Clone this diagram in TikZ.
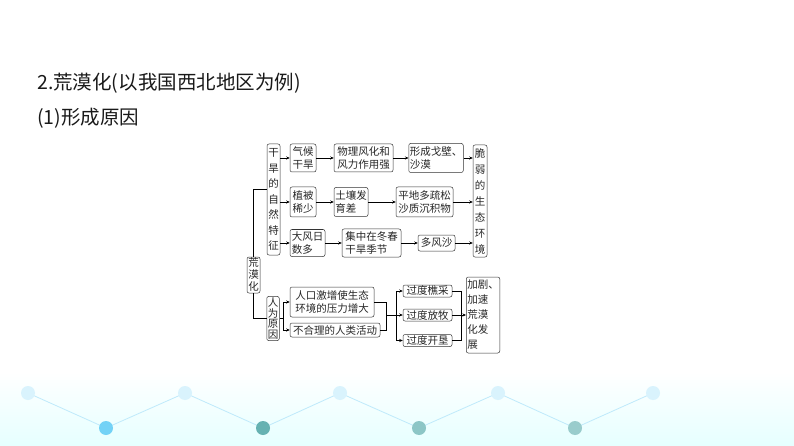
\documentclass[tikz,border=0pt]{standalone}
\usepackage{fontspec}
\setmainfont{Noto Sans CJK SC}
\usetikzlibrary{arrows.meta}

\begin{document}
\begin{tikzpicture}[
		x=1pt,y=-1pt,
		line width=0.5pt,
		box/.style={draw=black!80,rounded corners=2pt,inner sep=1pt,align=left,text=black!85,
			font=\fontsize{10.5}{13.5}\selectfont},
		vbox/.style={box,align=center,text width=10.5pt},
		tbox/.style={box,minimum height=12pt},
		arr/.style={-{Stealth[length=3.5pt,width=3pt]}},
		title/.style={anchor=west,inner sep=0pt,text=black!90,font=\fontsize{19.5}{22}\selectfont}
	]
	\useasboundingbox (0,0) rectangle (794,446);
	\shade[top color=white,bottom color=cyan!10] (0,372) rectangle (794,446);
	\draw[cyan!25,line width=0.8pt] (28,393) -- (106,428) -- (185,393) -- (263,428) -- (340,393)
		-- (419,428) -- (498,393) -- (575,428) -- (653,393);
	\foreach \x in {28,185,340,498,653}
		\fill[cyan!15] (\x,393) circle (7);
	\foreach \x/\c in {106/cyan!55,263/teal!60,419/teal!45,575/teal!40}
		\fill[\c] (\x,428) circle (7);

	\node[title] (head) at (37,83) {2.荒漠化(以我国西北地区为例)};
	\node[title] (sub) at (37,118) {(1)形成原因};

	\node[vbox,minimum width=13pt,minimum height=36pt,font=\fontsize{10.5}{12}\selectfont] (des) at (253.5,275) {荒\\漠\\化};
	\node[vbox,minimum width=13pt,minimum height=111pt,font=\fontsize{10.5}{15.5}\selectfont] (nat) at (273.5,199.5) {干\\旱\\的\\自\\然\\特\\征};
	\node[vbox,minimum width=12pt,minimum height=43pt,font=\fontsize{10.5}{10.8}\selectfont] (hum) at (273,318.5) {人\\为\\原\\因};

	\node[box,minimum width=26pt,minimum height=28pt] (qh) at (303,158) {气候\\干旱};
	\node[box,minimum width=59pt,minimum height=28pt] (wl) at (363.5,158) {物理风化和\\风力作用强};
	\node[box,minimum width=52pt,minimum height=29pt] (gb) at (436,158) {形成戈壁、\\沙漠};
	\node[box,minimum width=26pt,minimum height=30pt] (zb) at (303,202) {植被\\稀少};
	\node[box,minimum width=34pt,minimum height=29pt] (tr) at (351,202) {土壤发\\育差};
	\node[box,minimum width=57pt,minimum height=30pt] (pd) at (424.5,202) {平地多疏松\\沙质沉积物};
	\node[box,minimum width=35pt,minimum height=27pt] (df) at (307.5,243) {大风日\\数多};
	\node[box,minimum width=59pt,minimum height=28pt] (jz) at (371.5,243) {集中在冬春\\干旱季节};
	\node[box,minimum width=37pt,minimum height=16pt] (dfs) at (436.5,243) {多风沙};
	\node[vbox,minimum width=14pt,minimum height=112pt,font=\fontsize{10.5}{16}\selectfont] (cr) at (480,201) {脆\\弱\\的\\生\\态\\环\\境};

	\node[box,minimum width=84pt,minimum height=30pt] (rk) at (332,302) {人口激增使生态\\环境的压力增大};
	\node[box,minimum width=90pt,minimum height=14pt] (bh) at (335,330) {不合理的人类活动};
	\node[tbox,minimum width=49pt] (qc) at (427.5,291) {过度樵采};
	\node[tbox,minimum width=49pt] (fm) at (427.5,315) {过度放牧};
	\node[tbox,minimum width=49pt] (kk) at (427.5,340.5) {过度开垦};
	\node[box,minimum width=30pt,minimum height=76pt,font=\fontsize{10.5}{15}\selectfont] (jj) at (483,315) {加剧、\\加速\\荒漠\\化发\\展};

	\coordinate (natin) at (253.5,189);
	\draw (des.north) |- (nat.west |- natin);
	\draw (des.south) |- (hum.west);

	\draw[arr] (nat.east |- qh.west) -- (qh.west);
	\draw[arr] (nat.east |- zb.west) -- (zb.west);
	\draw[arr] (nat.east |- df.west) -- (df.west);
	\draw[arr] (qh.east) -- (wl.west);
	\draw[arr] (wl.east) -- (gb.west);
	\draw[arr] (gb.east) -- (cr.west |- gb.east);
	\draw[arr] (zb.east) -- (tr.west);
	\draw[arr] (tr.east) -- (pd.west);
	\draw[arr] (pd.east) -- (cr.west |- pd.east);
	\draw[arr] (df.east) -- (jz.west);
	\draw[arr] (jz.east) -- (dfs.west);
	\draw[arr] (dfs.east) -- (cr.west |- dfs.east);

	\coordinate (hj) at (283,318.5);
	\draw (hum.east) -- (hj);
	\draw (hj |- rk.west) -- (hj |- bh.west);
	\draw[arr] (hj |- rk.west) -- (rk.west);
	\draw[arr] (hj |- bh.west) -- (bh.west);

	\coordinate (mj) at (386,315);
	\coordinate (sj) at (396,315);
	\draw (rk.east) -| (mj);
	\draw (bh.east) -| (mj);
	\draw (mj) -- (sj);
	\draw (sj |- qc.west) -- (sj |- kk.west);
	\draw[arr] (sj |- qc.west) -- (qc.west);
	\draw[arr] (sj) -- (fm.west);
	\draw[arr] (sj |- kk.west) -- (kk.west);

	\coordinate (ej) at (461,315);
	\draw (qc.east) -| (ej);
	\draw (kk.east) -| (ej);
	\draw (fm.east) -- (ej);
	\draw[arr] (ej) -- (jj.west);
\end{tikzpicture}
\end{document}
